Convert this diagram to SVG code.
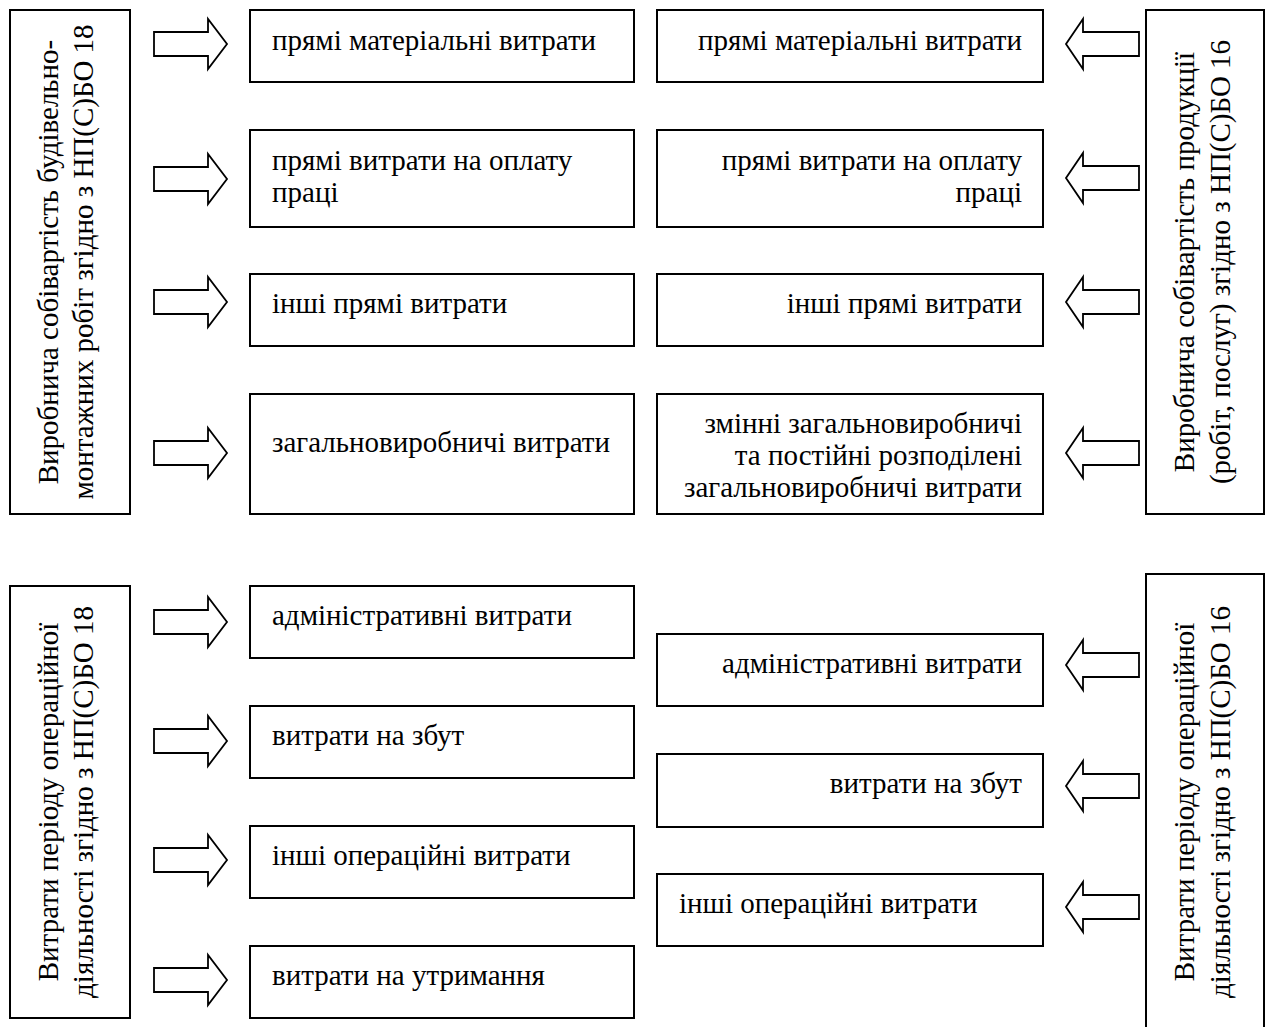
<svg xmlns="http://www.w3.org/2000/svg" xmlns:xlink="http://www.w3.org/1999/xlink" width="1266" height="1027" viewBox="0 0 1266 1027">
<style>
.box{fill:#fff;stroke:#000;stroke-width:2}
.arr{fill:#fff;stroke:#000;stroke-width:1.8;stroke-linejoin:miter}
text{font-family:"Liberation Serif","Times New Roman","DejaVu Serif",serif;font-size:29px;fill:#000}
.v{font-size:29px;text-anchor:middle}
.r{text-anchor:end}
</style>
<defs>
<path id="ra" d="M154,-12 H208 V-25 L227,0 L208,25 V12 H154 Z"/>
<path id="la" d="M1139,-12 H1083 V-25 L1066,0 L1083,25 V12 H1139 Z"/>
</defs>
<rect width="1266" height="1027" fill="#fff"/>

<g id="left-top">
<rect class="box" x="10" y="10" width="120" height="504"/>
<text class="v" transform="translate(58,262) rotate(-90)">Виробнича собівартість будівельно-</text>
<text class="v" transform="translate(93,262) rotate(-90)">монтажних робіт згідно з НП(С)БО 18</text>
</g>
<g id="right-top">
<rect class="box" x="1146" y="10" width="118" height="504"/>
<text class="v" transform="translate(1194,262) rotate(-90)">Виробнича собівартість продукції</text>
<text class="v" transform="translate(1230,262) rotate(-90)">(робіт, послуг) згідно з НП(С)БО 16</text>
</g>
<g id="left-bottom">
<rect class="box" x="10" y="586" width="120" height="432"/>
<text class="v" transform="translate(58,802) rotate(-90)">Витрати періоду операційної</text>
<text class="v" transform="translate(93,802) rotate(-90)">діяльності згідно з НП(С)БО 18</text>
</g>
<g id="right-bottom">
<rect class="box" x="1146" y="574" width="118" height="470"/>
<text class="v" transform="translate(1194,802) rotate(-90)">Витрати періоду операційної</text>
<text class="v" transform="translate(1230,802) rotate(-90)">діяльності згідно з НП(С)БО 16</text>
</g>

<g id="l1"><rect class="box" x="250" y="10" width="384" height="72"/><text x="272" y="50">прямі матеріальні витрати</text></g>
<g id="l2"><rect class="box" x="250" y="130" width="384" height="97"/><text x="272" y="170">прямі витрати на оплату</text><text x="272" y="202">праці</text></g>
<g id="l3"><rect class="box" x="250" y="274" width="384" height="72"/><text x="272" y="313">інші прямі витрати</text></g>
<g id="l4"><rect class="box" x="250" y="394" width="384" height="120"/><text x="272" y="452">загальновиробничі витрати</text></g>

<g id="r1"><rect class="box" x="657" y="10" width="386" height="72"/><text class="r" x="1022" y="50">прямі матеріальні витрати</text></g>
<g id="r2"><rect class="box" x="657" y="130" width="386" height="97"/><text class="r" x="1022" y="170">прямі витрати на оплату</text><text class="r" x="1022" y="202">праці</text></g>
<g id="r3"><rect class="box" x="657" y="274" width="386" height="72"/><text class="r" x="1022" y="313">інші прямі витрати</text></g>
<g id="r4"><rect class="box" x="657" y="394" width="386" height="120"/><text class="r" x="1022" y="433">змінні загальновиробничі</text><text class="r" x="1022" y="465">та постійні розподілені</text><text class="r" x="1022" y="497">загальновиробничі витрати</text></g>

<g id="l5"><rect class="box" x="250" y="586" width="384" height="72"/><text x="272" y="625">адміністративні витрати</text></g>
<g id="l6"><rect class="box" x="250" y="706" width="384" height="72"/><text x="272" y="745">витрати на збут</text></g>
<g id="l7"><rect class="box" x="250" y="826" width="384" height="72"/><text x="272" y="865">інші операційні витрати</text></g>
<g id="l8"><rect class="box" x="250" y="946" width="384" height="72"/><text x="272" y="985">витрати на утримання</text></g>

<g id="r5"><rect class="box" x="657" y="634" width="386" height="72"/><text class="r" x="1022" y="673">адміністративні витрати</text></g>
<g id="r6"><rect class="box" x="657" y="754" width="386" height="73"/><text class="r" x="1022" y="793">витрати на збут</text></g>
<g id="r7"><rect class="box" x="657" y="874" width="386" height="72"/><text x="679" y="913">інші операційні витрати</text></g>

<g id="connectors">
<use xlink:href="#ra" class="arr" transform="translate(0,44)"/>
<use xlink:href="#ra" class="arr" transform="translate(0,179)"/>
<use xlink:href="#ra" class="arr" transform="translate(0,302)"/>
<use xlink:href="#ra" class="arr" transform="translate(0,453)"/>
<use xlink:href="#ra" class="arr" transform="translate(0,622)"/>
<use xlink:href="#ra" class="arr" transform="translate(0,741)"/>
<use xlink:href="#ra" class="arr" transform="translate(0,860)"/>
<use xlink:href="#ra" class="arr" transform="translate(0,980)"/>
<use xlink:href="#la" class="arr" transform="translate(0,44)"/>
<use xlink:href="#la" class="arr" transform="translate(0,178)"/>
<use xlink:href="#la" class="arr" transform="translate(0,302)"/>
<use xlink:href="#la" class="arr" transform="translate(0,453)"/>
<use xlink:href="#la" class="arr" transform="translate(0,665)"/>
<use xlink:href="#la" class="arr" transform="translate(0,786)"/>
<use xlink:href="#la" class="arr" transform="translate(0,907)"/>
</g>
</svg>
